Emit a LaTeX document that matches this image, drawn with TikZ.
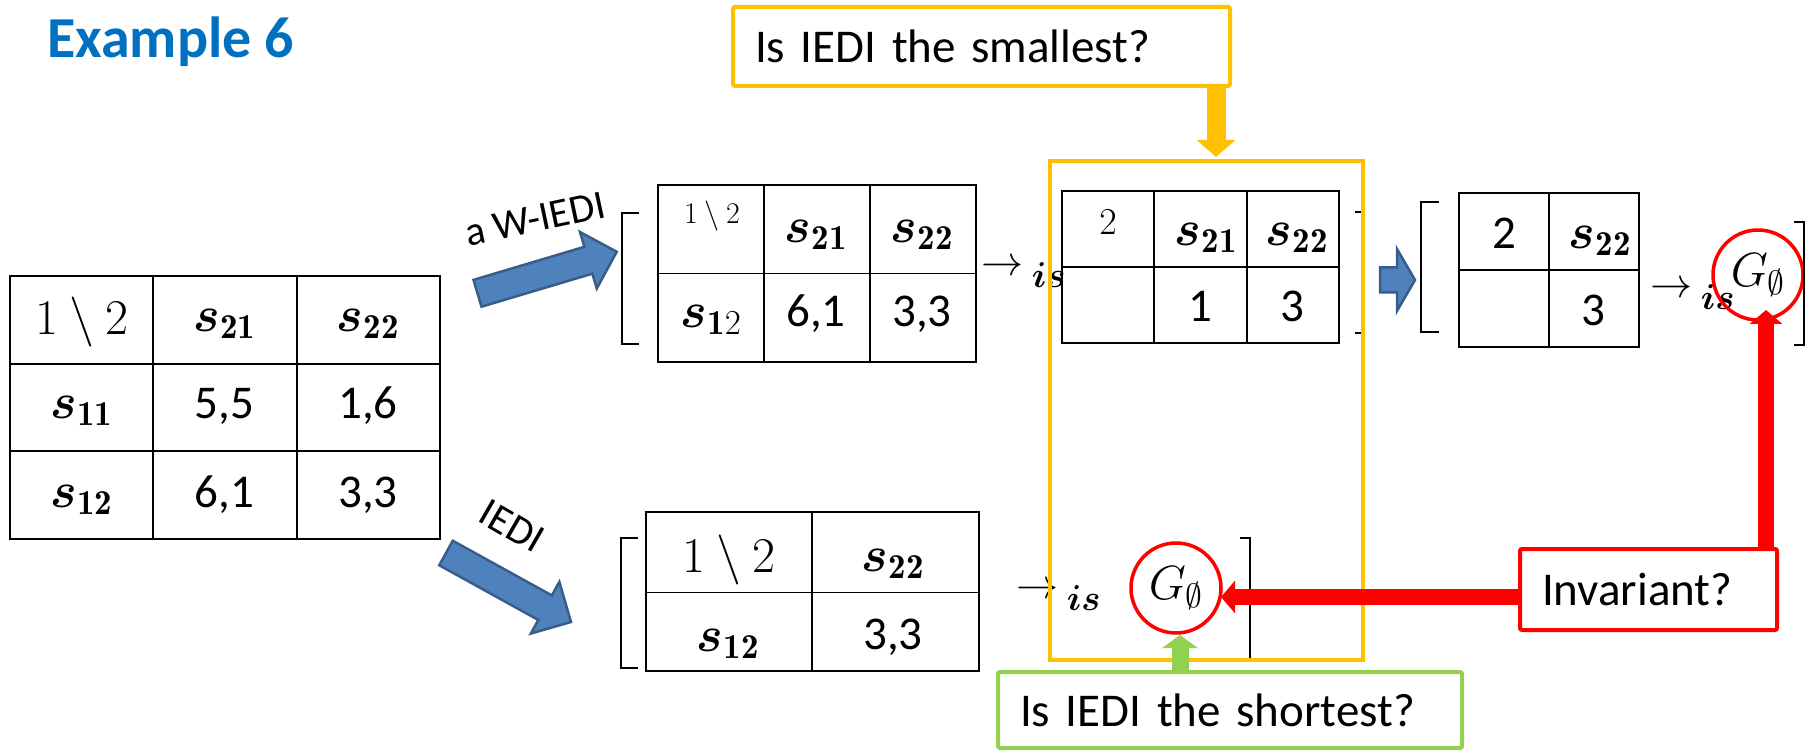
\RequirePackage{fix-cm}
\documentclass[tikz,border=0pt]{standalone}
\usepackage{fontspec}
\usepackage{amsmath}
\usepackage{bm}
\newfontfamily\carlito{Carlito}
\usetikzlibrary{arrows.meta,calc}
\definecolor{titleblue}{HTML}{0070C0}
\definecolor{qorange}{HTML}{FFC000}
\definecolor{qgreen}{HTML}{92D050}
\definecolor{qred}{HTML}{FF0000}
\definecolor{bfill}{HTML}{4F81BD}
\definecolor{bdraw}{HTML}{385D8A}
\newcommand{\isarr}{${\rightarrow\mathstrut}_{\kern-3pt\mbox{\fontsize{36}{40}\selectfont$\bm{is}$}}$}
\tikzset{
  tbl/.style={draw, line width=1.8pt, inner sep=0pt, outer sep=0pt},
  tline/.style={line width=1.8pt},
  num/.style={font=\carlito\fontsize{47}{56}\selectfont, inner sep=0pt},
  mth/.style={font=\fontsize{50}{60}\selectfont, inner sep=0pt},
  brk/.style={line width=2.5pt},
  qbox/.style={line width=4pt, rounded corners=2pt, fill=white, inner xsep=22pt, inner ysep=0pt, outer sep=0pt, align=left, anchor=north west, font=\carlito\fontsize{47}{56}\selectfont},
  blockarrow/.style={fill=bfill, draw=bdraw, line width=2.5pt, line join=miter},
  arrowlabel/.style={font=\carlito\fontsize{41}{50}\selectfont, inner sep=0pt},
  gnode/.style={circle, draw=qred, line width=3.5pt, minimum size=90pt, inner sep=0pt, font=\fontsize{48}{56}\selectfont},
  isarrow/.style={inner sep=0pt, font=\fontsize{42}{50}\selectfont, anchor=base west},
  rarrow/.style={draw=qred, line width=16pt, -{Triangle[length=14pt,width=32pt]}},
  garrow/.style={draw=qgreen, line width=17pt, -{Triangle[length=13pt,width=35pt]}},
  oarrow/.style={draw=qorange, line width=19pt, -{Triangle[length=17pt,width=38pt]}},
}
\begin{document}
\begin{tikzpicture}[x=1pt,y=-1pt]
\useasboundingbox (0,0) rectangle (1816,751);

% title
\node[anchor=base west, inner sep=0pt, font=\carlito\bfseries\fontsize{58}{70}\selectfont, text=titleblue] (title) at (47,58) {Example 6};

% main table
\node[tbl, minimum width=430pt, minimum height=263pt, anchor=north west] (T0) at (10,276) {};
\draw[tline] (T0.north west) ++(143.3,0) -- ++(0,263);
\draw[tline] (T0.north west) ++(286.7,0) -- ++(0,263);
\draw[tline] (T0.north west) ++(0,87.7) -- ++(430,0);
\draw[tline] (T0.north west) ++(0,175.3) -- ++(430,0);
\node[mth] (t0a) at (81.7,322) {$1\setminus 2$};
\node[mth] (t0b) at (224.5,324) {$\bm{s}_{\mathbf{21}}$};
\node[mth] (t0c) at (368,324) {$\bm{s}_{\mathbf{22}}$};
\node[mth] (t0d) at (81.7,411) {$\bm{s}_{\mathbf{11}}$};
\node[num] (t0e) at (224.5,406) {5,5};
\node[num] (t0f) at (368,406) {1,6};
\node[mth] (t0g) at (81.7,500) {$\bm{s}_{\mathbf{12}}$};
\node[num] (t0h) at (224.5,495) {6,1};
\node[num] (t0i) at (368,495) {3,3};

% blue block arrows
\begin{scope}[shift={(477.5,293.3)}, rotate=16.6]
  \path[blockarrow] (0,-14) -- (115.7,-14) -- (115.7,-29.5) -- (145.3,0) -- (115.7,29.5) -- (115.7,14) -- (0,14) -- cycle;
\end{scope}
\begin{scope}[shift={(446,553)}, rotate=-28.9]
  \path[blockarrow] (0,-14) -- (113.2,-14) -- (113.2,-29.5) -- (142.8,0) -- (113.2,29.5) -- (113.2,14) -- (0,14) -- cycle;
\end{scope}
\path[blockarrow] (1380,267.5) -- (1397,267.5) -- (1397,249) -- (1415,280) -- (1397,311) -- (1397,292.5) -- (1380,292.5) -- cycle;
\node[arrowlabel, rotate=12] (lw) at (535,219) {a W-IEDI};
\node[arrowlabel, rotate=-30] (li) at (512,526) {IEDI};

% table A
\node[tbl, minimum width=318pt, minimum height=177pt, anchor=north west] (TA) at (658,185) {};
\draw[tline] (TA.north west) ++(106,0) -- ++(0,177);
\draw[tline] (TA.north west) ++(212,0) -- ++(0,177);
\draw[tline] (TA.north west) ++(0,88.5) -- ++(318,0);
\node[inner sep=0pt, font=\fontsize{30}{36}\selectfont] (taa) at (712,216) {$1\setminus 2$};
\node[mth] (tab) at (816,235) {$\bm{s}_{\mathbf{21}}$};
\node[mth] (tac) at (922,235) {$\bm{s}_{\mathbf{22}}$};
\node[mth] (tad) at (711,320) {$\bm{s}_{\mathbf{1}2}$};
\node[num] (tae) at (816,314) {6,1};
\node[num] (taf) at (922,314) {3,3};
\node[isarrow] (isA) at (981,276) {\isarr};

% table B
\node[tbl, minimum width=277pt, minimum height=152pt, anchor=north west] (TB) at (1062,191) {};
\draw[tline] (TB.north west) ++(92.3,0) -- ++(0,152);
\draw[tline] (TB.north west) ++(184.7,0) -- ++(0,152);
\draw[tline] (TB.north west) ++(0,76) -- ++(277,0);
\node[inner sep=0pt, font=\fontsize{38}{46}\selectfont] (tba) at (1108,222.5) {$2$};
\node[mth] (tbb) at (1206,238) {$\bm{s}_{\mathbf{21}}$};
\node[mth] (tbc) at (1297,238) {$\bm{s}_{\mathbf{22}}$};
\node[num] (tbd) at (1200,306) {1};
\node[num] (tbe) at (1292,306) {3};

% brackets, upper group
\draw[brk] (639,213) -- (622,213) -- (622,344) -- (639,344);
\draw[brk] (1355,212) -- (1362,212) -- (1362,333) -- (1355,333);

% table C
\node[tbl, minimum width=180pt, minimum height=154pt, anchor=north west] (TC) at (1459,193) {};
\draw[tline] (TC.north west) ++(90,0) -- ++(0,154);
\draw[tline] (TC.north west) ++(0,77) -- ++(180,0);
\node[num] (tca) at (1504,233) {2};
\node[mth] (tcb) at (1600,241) {$\bm{s}_{\mathbf{22}}$};
\node[num] (tcc) at (1593,310) {3};
\node[isarrow] (isC) at (1650,297.5) {\isarr};
\node[gnode] (gC) at (1758,275) {$G_{\emptyset}$};
\draw[brk] (1439,202) -- (1421,202) -- (1421,332) -- (1439,332);
\draw[brk] (1794,222) -- (1804,222) -- (1804,345) -- (1794,345);

% table D
\node[tbl, minimum width=333pt, minimum height=159pt, anchor=north west] (TD) at (646,512) {};
\draw[tline] (TD.north west) ++(166,0) -- ++(0,159);
\draw[tline] (TD.north west) ++(0,80.5) -- ++(333,0);
\node[mth] (tda) at (729,560) {$1\setminus 2$};
\node[mth] (tdb) at (893,564) {$\bm{s}_{\mathbf{22}}$};
\node[mth] (tdc) at (728,644) {$\bm{s}_{\mathbf{12}}$};
\node[num] (tdd) at (893,637) {3,3};
\node[isarrow] (isD) at (1016,598.5) {\isarr};
\node[gnode] (gD) at (1176,588) {$G_{\emptyset}$};
\draw[brk] (638,538) -- (621,538) -- (621,668) -- (638,668);
\draw[brk] (1240,538) -- (1250,538) -- (1250,659) -- (1240,659);

% orange focus frame
\node[draw=qorange, line width=4pt, minimum width=313pt, minimum height=499pt, inner sep=0pt, outer sep=0pt, anchor=north west] (focus) at (1050,161) {};

% question boxes
\node[qbox, draw=qorange, text width=453pt, minimum height=79pt] (qS) at (733,7) {Is IEDI the smallest?};
\node[qbox, draw=qred, text width=213pt, minimum height=81pt] (inv) at (1520,549) {Invariant?};
\node[qbox, draw=qgreen, text width=420pt, minimum height=76pt] (gq) at (998,672) {Is IEDI the shortest?};

% connectors
\coordinate (oa) at (1216,157);
\draw[oarrow] (qS.south -| oa) -- (oa);
\coordinate (rv) at (1766,310);
\draw[rarrow] (inv.north -| rv) -- (rv);
\coordinate (rh) at (1221,597);
\draw[rarrow] (inv.west |- rh) -- (rh);
\coordinate (ga) at (1180,635);
\draw[garrow] (gq.north -| ga) -- (ga);
\end{tikzpicture}
\end{document}
